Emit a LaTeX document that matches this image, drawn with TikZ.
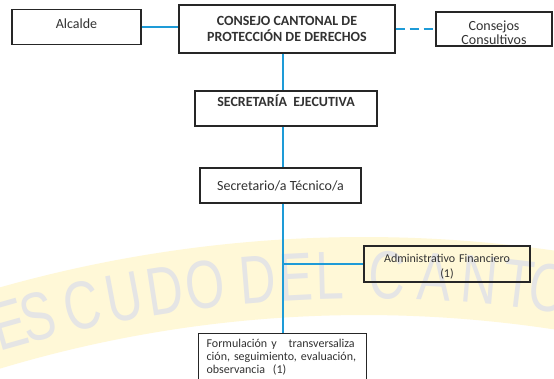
\documentclass[tikz,border=0pt]{standalone}
\usepackage{fontspec}
\setmainfont{Carlito}
\newfontfamily\marcafont{Liberation Sans}

\definecolor{azul}{RGB}{30,155,215}
\definecolor{crema}{RGB}{255,248,215}
\definecolor{tinta}{RGB}{50,50,50}

\begin{document}
\begin{tikzpicture}[x=1pt,y=-1pt,
        caja/.style={draw=black!85,line width=1.2pt,text=tinta,inner sep=2pt,font=\fontsize{14}{16}\selectfont},
        titulo/.style={caja,font=\bfseries\fontsize{14}{16.5}\selectfont},
        chica/.style={caja,font=\fontsize{12}{15}\selectfont},
        enlace/.style={draw=azul,line width=2pt},
        letra/.style={text=black!10,font=\marcafont\fontsize{68}{68}\selectfont}]
    \useasboundingbox (0,0) rectangle (554,378);
    \clip (0,0) rectangle (554,378);
    \fill[white] (0,0) rectangle (554,378);
    % franja del fondo
    \begin{scope}[shift={(364,1577)}]
        \fill[crema] (-120:1340) arc[start angle=-120,end angle=-60,radius=1340]
            -- (-60:1262) arc[start angle=-60,end angle=-120,radius=1262] -- cycle;
        \foreach \l/\d in {E/-15.8,S/-14.5,C/-12.5,U/-10.6,D/-8.8,O/-7.0,D/-4.7,E/-3.0,L/-1.5,C/1.0,A/3.1,N/5.1,T/6.8,O/8.2}
            \node[letra,rotate=-\d,xscale=0.74] at (-90+\d:1302) {\l};
    \end{scope}

    \node[caja,minimum width=129pt,minimum height=35pt,text height=10pt,text depth=6.4pt] (alcalde) at (76.5,27) {Alcalde};
    \node[titulo,minimum width=216pt,minimum height=48pt,align=center] (consejo) at (287,29) {CONSEJO CANTONAL DE\\PROTECCIÓN DE DERECHOS};
    \node[caja,minimum width=116pt,minimum height=34pt,text width=112pt,align=center,text height=10pt,text depth=8pt,font=\fontsize{14}{14.5}\selectfont] (consultivo) at (494,29) {Consejos\\Consultivos};
    \node[titulo,minimum width=182pt,minimum height=35pt,text height=8pt,text depth=12pt] (secejec) at (286,108.5) {SECRETARÍA\ \ EJECUTIVA};
    \node[caja,minimum width=161pt,minimum height=35pt] (tecnico) at (280.5,185.5) {Secretario/a Técnico/a};
    \node[chica,minimum width=166pt,minimum height=36pt,text width=162pt,align=center,text height=10pt,text depth=14pt] (admin) at (447,264) {Administrativo Financiero\\(1)};
    \node[chica,anchor=north west,text width=152pt,inner xsep=8pt,inner ysep=5pt,align=left,text height=9pt,text depth=40pt,font=\fontsize{12}{12.8}\selectfont] (formul) at (198,333) {Formulación y\ \ \ transversaliza\\ción, seguimiento, evaluación,\\observancia\ \ (1)};

    \coordinate (tronco) at (283,0);
    \draw[enlace] (alcalde.east) -- (alcalde.east -| consejo.west);
    \draw[enlace,dash pattern=on 9pt off 5pt] (consejo.east |- consultivo) -- (consultivo.west);
    \draw[enlace] (consejo.south -| tronco) -- (secejec.north -| tronco);
    \draw[enlace] (secejec.south -| tronco) -- (tecnico.north -| tronco);
    \draw[enlace] (tecnico.south -| tronco) -- (formul.north -| tronco);
    \draw[enlace] (tronco |- admin) -- (admin.west);
\end{tikzpicture}
\end{document}
